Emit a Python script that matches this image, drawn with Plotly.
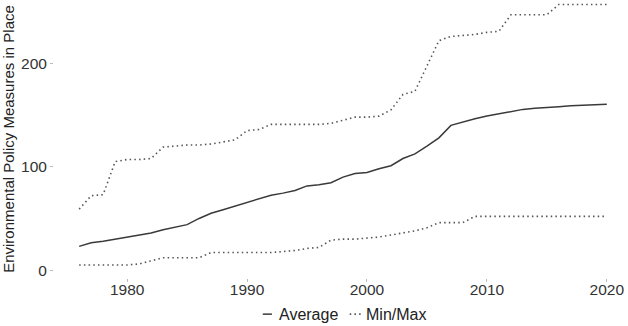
import plotly.graph_objects as go

years = list(range(1976, 2021))

average = [23, 26.5, 28, 30, 31.5, 34, 36, 39, 41.5, 44,
           50, 55, 58.5, 62, 66, 69.5, 72.5, 74.5, 77, 81.5,
           82.5, 84.5, 90, 93.5, 94.5, 98, 101, 108, 112.5, 120,
           128, 140, 143.5, 146.5, 149, 151, 153, 155.5, 156.5, 157,
           158, 159, 159.5, 160.5, 160.5]

minimum = [5, 5, 5, 5, 5, 6, 9, 12, 12, 12,
           12, 17, 17, 17, 17, 17, 17, 18, 19, 21,
           22, 29, 30, 30, 31, 32, 34, 36, 38, 41,
           46, 46, 46, 52, 52, 52, 52, 52, 52, 52,
           52, 52, 52, 52, 52]

maximum = [59, 72, 73, 105, 107, 107, 108, 119, 120, 121,
           121, 122, 124, 126, 135, 136, 141, 141, 141, 141,
           141, 142, 145, 148, 148, 149, 155, 170, 173, 198,
           222, 226, 227, 228, 230, 231, 247, 247, 247, 247,
           257, 257, 257, 257, 257]

x_ticks = [1980, 1990, 2000, 2010, 2020]
y_ticks = [0, 100, 200]
legend_labels = ["Average", "Min/Max"]

font = "Liberation Sans, Arial, sans-serif"
solid = dict(color="#3a3a3a", width=1.5)
dotted = dict(color="#555555", width=1.6, dash="1.5px,3.2px")

fig = go.Figure()
fig.add_trace(go.Scatter(x=years, y=average, mode="lines", name=legend_labels[0], line=solid))
fig.add_trace(go.Scatter(x=years, y=maximum, mode="lines", name=legend_labels[1], line=dotted))
fig.add_trace(go.Scatter(x=years, y=minimum, mode="lines", name=legend_labels[1], line=dotted))

# ggplot-style legend below the panel with short keys (plotly's own legend
# would push the bottom margin and squash the panel)
leg_y = -0.13
keys = [(0.365, 0.381, solid), (0.517, 0.539, dotted)]
text_x = [0.389, 0.542]
for (x0, x1, style), tx, label in zip(keys, text_x, legend_labels):
    fig.add_shape(type="line", xref="paper", yref="paper", x0=x0, x1=x1,
                  y0=leg_y, y1=leg_y, line=style)
    fig.add_annotation(xref="paper", yref="paper", x=tx, y=leg_y, text=label,
                       showarrow=False, xanchor="left", yanchor="middle",
                       font=dict(size=16, color="#222222"))

fig.update_layout(
    width=628, height=326,
    margin=dict(l=54, r=2, t=0, b=48),
    plot_bgcolor="white", paper_bgcolor="white",
    font=dict(family=font, size=15.5, color="#333333"),
    showlegend=False,
)
fig.update_xaxes(range=[1973.9, 2021.6], tickvals=x_ticks, showgrid=False,
                 zeroline=False, showline=False, ticks="outside", ticklen=3,
                 tickcolor="#bbbbbb", tickwidth=1, automargin=False,
                 ticklabelstandoff=-6)
fig.update_yaxes(range=[-7.6, 261.3], tickvals=y_ticks, showgrid=False,
                 zeroline=False, showline=False, ticks="outside", ticklen=3,
                 tickcolor="#bbbbbb", tickwidth=1, automargin=False,
                 title=dict(text="Environmental Policy Measures in Place",
                            font=dict(size=15, color="#222222"), standoff=6))

# the page body has a default 8px margin; drop it so the figure sits at 0,0
fig.write_html("out.html", config={"displayModeBar": False},
               post_script="document.body.style.margin='0';")
